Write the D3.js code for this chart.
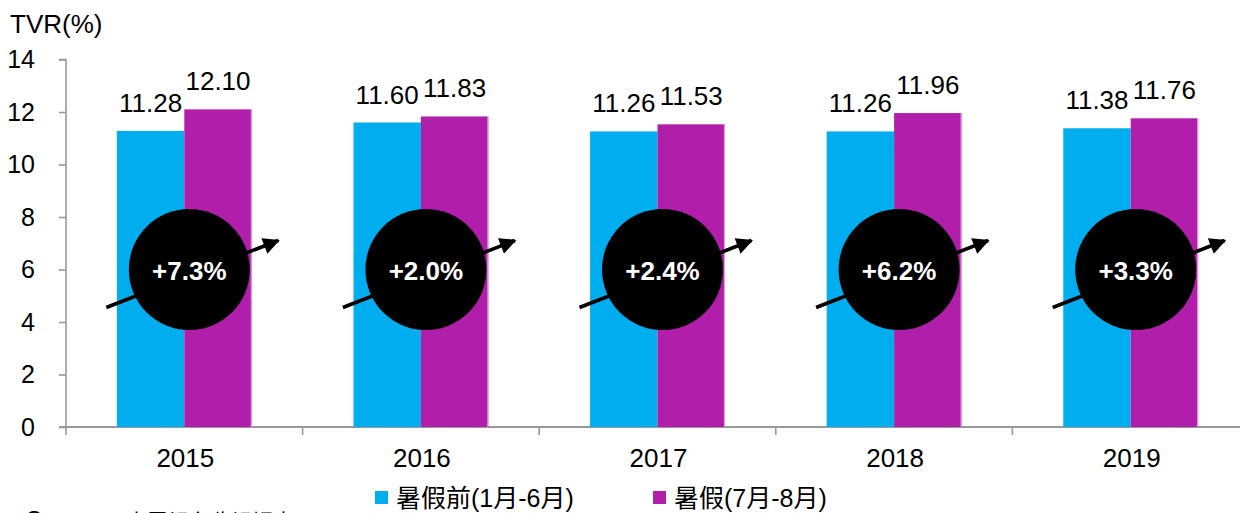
<!DOCTYPE html>
<html>
<head>
<meta charset="utf-8">
<script src="https://cdn.jsdelivr.net/npm/d3@7"></script>
<style>
  html, body { margin: 0; padding: 0; background: #fff; overflow: hidden; }
  svg { display: block; }
  text { font-family: "Liberation Sans", Arial, "Noto Sans CJK TC", sans-serif; }
</style>
</head>
<body>
<svg id="chart" width="1240" height="513"></svg>
<script>
// Average TVR before and during summer holidays, by year
const years = ["2015", "2016", "2017", "2018", "2019"];
const beforeSummer = [11.28, 11.60, 11.26, 11.26, 11.38];
const summer = [12.10, 11.83, 11.53, 11.96, 11.76];
const growthLabels = ["+7.3%", "+2.0%", "+2.4%", "+6.2%", "+3.3%"];
const yTicks = [0, 2, 4, 6, 8, 10, 12, 14];
const seriesNames = ["暑假前(1月-6月)", "暑假(7月-8月)"];

const colors = ["#00AEEF", "#B01EAA"];

const svg = d3.select("#chart");

const x = d3.scaleBand().domain(years).range([66, 1249]).padding(0);
const y = d3.scaleLinear().domain([0, 14]).range([427, 59.5]);
const barW = x.bandwidth() * 0.285;

// Y axis
const yAxis = svg.append("g")
  .attr("transform", "translate(66,0)")
  .call(d3.axisLeft(y).tickValues(yTicks).tickSize(7).tickPadding(24).tickFormat(d3.format("d")));
yAxis.select(".domain").attr("stroke", "#999").attr("stroke-width", 1.6).attr("d", `M-7,${y(14)}H0V${y(0)}`);
yAxis.selectAll(".tick line").attr("stroke", "#999").attr("stroke-width", 1.6);
yAxis.selectAll(".tick text").attr("font-size", 25).attr("fill", "#000")
  .attr("font-family", "'Liberation Sans', Arial, sans-serif");

// X axis: ticks mark the boundaries between years
const xAxisG = svg.append("g").attr("transform", `translate(0,${y(0)})`);
xAxisG.append("line").attr("x1", 59).attr("x2", 1249).attr("y1", 0).attr("y2", 0)
  .attr("stroke", "#999").attr("stroke-width", 2);
xAxisG.selectAll("line.sep").data(years).join("line").attr("class", "sep")
  .attr("x1", d => x(d)).attr("x2", d => x(d)).attr("y1", 0).attr("y2", 8)
  .attr("stroke", "#999").attr("stroke-width", 1.6);
xAxisG.selectAll("text").data(years).join("text")
  .attr("x", d => x(d) + x.bandwidth() / 2 + 1).attr("y", 40)
  .attr("text-anchor", "middle").attr("font-size", 26).attr("fill", "#000")
  .text(d => d);

// Y axis title
svg.append("text").attr("x", 10).attr("y", 33).attr("font-size", 26).attr("fill", "#000").text("TVR(%)");

// Bars
const rows = years.map((yr, i) => ({ yr, vals: [beforeSummer[i], summer[i]] }));
const groups = svg.selectAll("g.year").data(rows).join("g").attr("class", "year");
groups.each(function (d) {
  const g = d3.select(this);
  const cx = x(d.yr) + x.bandwidth() / 2;
  d.vals.forEach((v, k) => {
    const bx = cx - barW + k * barW;
    g.append("rect")
      .attr("x", bx).attr("y", y(v)).attr("width", barW).attr("height", y(0) - y(v))
      .attr("fill", colors[k]);
    if (k === 1) {
      g.append("line").attr("x1", bx + barW - 0.5).attr("x2", bx + barW - 0.5)
        .attr("y1", y(v)).attr("y2", y(0)).attr("stroke", "#E7A6E2").attr("stroke-width", 1);
    }
    g.append("text")
      .attr("x", bx + barW / 2).attr("y", y(v) - 19)
      .attr("text-anchor", "middle").attr("font-size", 26).attr("fill", "#000")
      .text(v.toFixed(2));
  });
});

// Growth badges with trend arrows
const defs = svg.append("defs");
defs.append("marker").attr("id", "arrowhead")
  .attr("viewBox", "0 0 10 10").attr("refX", 9).attr("refY", 5)
  .attr("markerWidth", 5.5).attr("markerHeight", 4.6).attr("orient", "auto")
  .attr("markerUnits", "strokeWidth")
  .append("path").attr("d", "M0,0L10,5L0,10Z").attr("fill", "#000");

years.forEach((yr, i) => {
  const cx = x(yr) + x.bandwidth() / 2 + 5;
  const cy = y(6);
  svg.append("line")
    .attr("x1", cx - 83).attr("y1", cy + 38)
    .attr("x2", cx + 89).attr("y2", cy - 29)
    .attr("stroke", "#000").attr("stroke-width", 3.6)
    .attr("marker-end", "url(#arrowhead)");
  svg.append("circle").attr("cx", cx).attr("cy", cy).attr("r", 60.5).attr("fill", "#000");
  svg.append("text").attr("x", cx).attr("y", cy + 10)
    .attr("text-anchor", "middle").attr("font-size", 26).attr("font-weight", "bold")
    .attr("fill", "#fff").text(growthLabels[i]);
});

// Legend
const legend = svg.append("g");
const legendX = [375, 653];
seriesNames.forEach((name, k) => {
  legend.append("rect").attr("x", legendX[k]).attr("y", 491).attr("width", 13).attr("height", 13).attr("fill", colors[k]);
  legend.append("text").attr("x", legendX[k] + 21).attr("y", 507)
    .attr("font-size", 25).attr("fill", "#000").text(name);
});

// Source note, running off the bottom edge
svg.append("text").attr("x", 26).attr("y", 528).attr("font-size", 24).attr("fill", "#000").text("Source:");
svg.append("text").attr("x", 105).attr("y", 529).attr("font-size", 21).attr("fill", "#000")
  .attr("font-family", "'Noto Sans CJK TC', sans-serif").text("日本電視台收視調查");
</script>
</body>
</html>
